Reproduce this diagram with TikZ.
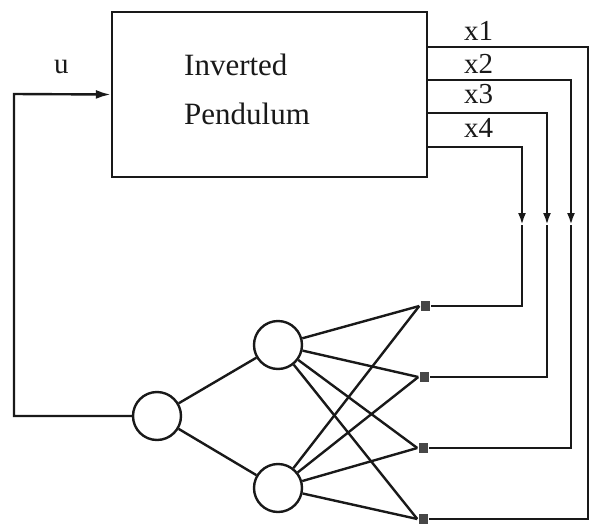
\documentclass[tikz,border=0pt]{standalone}
\usepackage{fontspec}
\setmainfont{Liberation Serif}
\usetikzlibrary{arrows.meta}
\definecolor{ink}{RGB}{25,25,25}
\begin{document}
\begin{tikzpicture}[x=1pt,y=-1pt,line width=2.4pt,draw=ink,
  every node/.style={text=ink},
  lbl/.style={anchor=base west,inner sep=0pt,font=\fontsize{29}{33}\selectfont},
  big/.style={anchor=base west,inner sep=0pt,font=\fontsize{31}{35}\selectfont},
  neuron/.style={circle,draw=ink,line width=2.4pt,minimum size=48pt,inner sep=0pt},
  outsq/.style={rectangle,fill=ink!80,minimum width=9pt,minimum height=10pt,inner sep=0pt},
  tipA/.style={-{Latex[length=15pt,width=9pt]}},
  tipB/.style={-{Latex[length=12pt,width=8pt]}}]
\useasboundingbox (0,0) rectangle (590,523);
% plant
\node[draw=ink,rectangle,minimum width=315pt,minimum height=165pt,inner sep=0pt] (box) at (269.5,94.5) {};
\node[big] (t1) at (183,75) {Inverted};
\node[big] (t2) at (183,124) {Pendulum};
\node[lbl] (u) at (53,73) {u};
% network
\node[neuron] (n0) at (157,416) {};
\node[neuron] (h1) at (278,345) {};
\node[neuron] (h2) at (278,488) {};
\node[outsq] (s1) at (425,306) {};
\node[outsq] (s2) at (424,377) {};
\node[outsq] (s3) at (423,448) {};
\node[outsq] (s4) at (423,519) {};
% output ports
\coordinate (o1) at (427,47);
\coordinate (o2) at (427,80);
\coordinate (o3) at (427,113);
\coordinate (o4) at (427,147);
\coordinate (a4) at (522,225);
\coordinate (a3) at (547,225);
\coordinate (a2) at (571,225);
\coordinate (r1) at (588,47);
\coordinate (fb) at (14,94);
% labels
\node[lbl] (x1) at (463,40) {x1};
\node[lbl] (x2) at (463,73) {x2};
\node[lbl] (x3) at (463,103) {x3};
\node[lbl] (x4) at (463,137) {x4};
% feedback
\draw[tipA] (n0.west) -| (fb) -- (box.west);
% network edges
\draw (n0) -- (h1);
\draw (n0) -- (h2);
\foreach \h in {h1,h2}{\foreach \s in {s1,s2,s3,s4}{\draw (\h) -- (\s.west);}}
% state lines
\draw (o1) -- (r1) |- (s4.east);
\draw[tipB] (o2) -| (a2); \draw (a2) |- (s3.east);
\draw[tipB] (o3) -| (a3); \draw (a3) |- (s2.east);
\draw[tipB] (o4) -| (a4); \draw (a4) |- (s1.east);
\end{tikzpicture}
\end{document}
